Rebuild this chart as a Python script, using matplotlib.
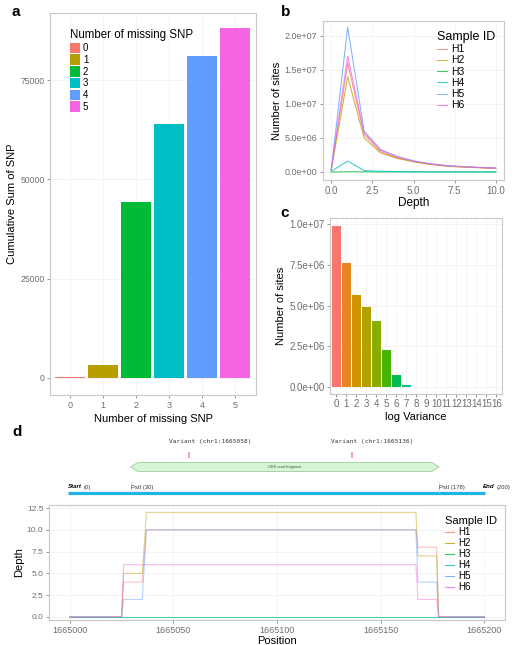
import math
import matplotlib
matplotlib.use("Agg")
import matplotlib.pyplot as plt
from matplotlib.patches import Patch, Rectangle, Polygon

plt.rcParams['font.family'] = ['Liberation Sans', 'DejaVu Sans']

# ---- data ----
missing_snp = [0, 1, 2, 3, 4, 5]
cum_snp = [150, 3300, 44400, 63900, 81000, 88100]

samples = ['H1', 'H2', 'H3', 'H4', 'H5', 'H6']
depth = [0, 1, 2, 3, 4, 5, 6, 7, 8, 9, 10]
h1_sites = [3e5, 1.60e7, 5.5e6, 3.0e6, 2.1e6, 1.55e6, 1.15e6, 9.0e5, 7.5e5, 6.5e5, 5.5e5]
h2_sites = [3e5, 1.40e7, 5.0e6, 2.8e6, 2.0e6, 1.50e6, 1.10e6, 8.5e5, 7.2e5, 6.2e5, 5.2e5]
h3_sites = [0, 3e4, 2e4, 1e4, 1e4, 5e3, 5e3, 5e3, 5e3, 5e3, 5e3]
h4_sites = [1e5, 1.6e6, 2.0e5, 1.0e5, 5e4, 4e4, 3e4, 2e4, 2e4, 1e4, 1e4]
h5_sites = [3e5, 2.13e7, 6.0e6, 3.3e6, 2.3e6, 1.65e6, 1.20e6, 9.5e5, 8.0e5, 6.8e5, 5.8e5]
h6_sites = [3e5, 1.70e7, 5.8e6, 3.2e6, 2.2e6, 1.60e6, 1.20e6, 9.2e5, 7.7e5, 6.6e5, 5.6e5]

log_var = list(range(17))
var_sites = [9.9e6, 7.6e6, 5.65e6, 4.9e6, 4.05e6, 2.3e6, 7.5e5, 1.5e5, 3e4,
             8e3, 3e3, 1e3, 0, 0, 0, 0, 0]

# gene map (positions relative to 1665000)
region = [0, 200]
psti_sites = [30, 178]
variant_pos = [58, 136]
variant_labels = ['Variant (chr1:1665058)', 'Variant (chr1:1665136)']

position = [1665000, 1665025, 1665026, 1665035, 1665037, 1665167, 1665168, 1665177, 1665178, 1665200]
h1_depth = [0, 0, 4, 4, 10, 10, 8, 8, 0, 0]
h2_depth = [0, 0, 5, 5, 12, 12, 7, 7, 0, 0]
h3_depth = [0, 0, 0, 0, 0, 0, 0, 0, 0, 0]
h4_depth = [0, 0, 0, 0, 0, 0, 0, 0, 0, 0]
h5_depth = [0, 0, 2, 2, 10, 10, 4, 4, 0, 0]
h6_depth = [0, 0, 6, 6, 6, 6, 2, 2, 0, 0]


def hcl_hex(h, c=100.0, l=65.0):
    # polarLUV -> sRGB, same as R's hcl()
    xn, yn, zn = 95.047, 100.0, 108.883
    un = 4 * xn / (xn + 15 * yn + 3 * zn)
    vn = 9 * yn / (xn + 15 * yn + 3 * zn)
    U = c * math.cos(math.radians(h))
    V = c * math.sin(math.radians(h))
    Y = yn * ((l + 16) / 116) ** 3
    u = U / (13 * l) + un
    v = V / (13 * l) + vn
    X = 9.0 * Y * u / (4 * v)
    Z = -X / 3 - 5 * Y + 3 * Y / v
    X, Y, Z = X / 100, Y / 100, Z / 100
    r = 3.240479 * X - 1.537150 * Y - 0.498535 * Z
    g = -0.969256 * X + 1.875992 * Y + 0.041556 * Z
    b = 0.055648 * X - 0.204043 * Y + 1.057311 * Z
    out = []
    for ch in (r, g, b):
        ch = 1.055 * ch ** (1 / 2.4) - 0.055 if ch > 0.0031308 else 12.92 * ch
        out.append(min(max(ch, 0), 1))
    return tuple(out)


def hue_pal(n):
    return [hcl_hex(15 + 360.0 * i / n) for i in range(n)]


def gg_style(ax, xsize=6, ysize=6):
    ax.set_facecolor('white')
    for s in ax.spines.values():
        s.set_color('#c8c8c8')
        s.set_linewidth(0.8)
    ax.grid(True, color='#f2f2f2', linewidth=0.6)
    ax.set_axisbelow(True)
    ax.tick_params(colors='#888888', labelcolor='#6e6e6e', length=2.5, width=0.6, pad=1.5)
    ax.tick_params(axis='x', labelsize=xsize)
    ax.tick_params(axis='y', labelsize=ysize)


W, H = 514, 645
fig = plt.figure(figsize=(W / 100, H / 100), dpi=100)


def px_axes(x0, y0, x1, y1):
    return fig.add_axes([x0 / W, 1 - y1 / H, (x1 - x0) / W, (y1 - y0) / H])


pal6 = hue_pal(6)

# ---- panel a ----
ax = px_axes(50, 13, 256, 395)
gg_style(ax, 6.5, 6.2)
ax.bar(missing_snp, cum_snp, width=0.9, color=pal6, zorder=2)
ax.set_xlim(-0.6, 5.64)
ax.set_ylim(-4300, 91900)
ax.set_xticks(missing_snp)
ax.set_yticks([0, 25000, 50000, 75000])
ax.set_xlabel('Number of missing SNP', fontsize=8, labelpad=3)
ax.set_ylabel('Cumulative Sum of SNP', fontsize=8, labelpad=2)
handles = [Patch(facecolor=c, edgecolor='none') for c in pal6]
leg = ax.legend(handles, [str(m) for m in missing_snp], title='Number of missing SNP',
                loc='upper left', bbox_to_anchor=(0.065, 0.975), frameon=False,
                fontsize=7, title_fontsize=8.3, handlelength=1.0, handleheight=1.3,
                handletextpad=0.3, labelspacing=0.12, borderpad=0.2)
leg._legend_box.align = 'left'
fig.text(12 / W, 1 - 12 / H, 'a', fontsize=11, fontweight='bold', va='center')

# ---- panel b ----
ax = px_axes(323, 21, 504, 180)
gg_style(ax, 7, 6.5)
for name, vals, c in zip(samples, [h1_sites, h2_sites, h3_sites, h4_sites, h5_sites, h6_sites], pal6):
    ax.plot(depth, vals, color=c, lw=0.8, alpha=0.75, label=name)
ax.set_xlim(-0.5, 10.5)
ax.set_ylim(-1.18e6, 2.22e7)
ax.set_xticks([0, 2.5, 5, 7.5, 10])
ax.set_xticklabels(['0.0', '2.5', '5.0', '7.5', '10.0'])
ax.set_yticks([0, 5e6, 1e7, 1.5e7, 2e7])
ax.set_yticklabels(['0.0e+00', '5.0e+06', '1.0e+07', '1.5e+07', '2.0e+07'])
ax.set_xlabel('Depth', fontsize=8.5, labelpad=1)
ax.set_ylabel('Number of sites', fontsize=8, labelpad=2)
leg = ax.legend(title='Sample ID', loc='upper right', bbox_to_anchor=(1.0, 0.99), frameon=False,
                fontsize=7.5, title_fontsize=9, handlelength=0.9, handletextpad=0.4,
                labelspacing=0.12, borderpad=0.3)
leg._legend_box.align = 'left'
fig.text(281 / W, 1 - 12 / H, 'b', fontsize=11, fontweight='bold', va='center')

# ---- panel c ----
ax = px_axes(330, 218, 502, 394)
gg_style(ax, 7, 7)
ax.bar(log_var, var_sites, width=0.9, color=hue_pal(len(log_var)), zorder=2)
ax.set_xlim(-0.6, 16.55)
ax.set_ylim(-4.3e5, 1.037e7)
ax.set_xticks(log_var)
ax.set_yticks([0, 2.5e6, 5e6, 7.5e6, 1e7])
ax.set_yticklabels(['0.0e+00', '2.5e+06', '5.0e+06', '7.5e+06', '1.0e+07'])
ax.tick_params(axis='x', pad=1)
ax.set_xlabel('log Variance', fontsize=8, labelpad=2)
ax.set_ylabel('Number of sites', fontsize=8, labelpad=2)
fig.text(280 / W, 1 - 213 / H, 'c', fontsize=11, fontweight='bold', va='center')

# ---- panel d: map ----
fig.text(12 / W, 1 - 432 / H, 'd', fontsize=11, fontweight='bold', va='center')
mp = px_axes(0, 430, 514, 500)
mp.set_axis_off()
scale = (region[1] - region[0]) / (485 - 68)
mp.set_xlim(region[0] - 68 * scale, region[1] + (514 - 485) * scale)
mp.set_ylim(70, 0)
# backbone
mp.plot(region, [63, 63], color='#1fb3e6', lw=2.3, solid_capstyle='butt')
# fragment arrow
f0, f1 = psti_sites
hl = 3.5
poly = [(f0, 37), (f0 + hl, 32.5), (f1 - hl, 32.5), (f1, 37), (f1 - hl, 41.5), (f0 + hl, 41.5)]
mp.add_patch(Polygon(poly, closed=True, facecolor='#d6f5d6', edgecolor='#9ccf9c', lw=0.6))
mp.text((f0 + f1) / 2, 37, 'GBS read fragment', fontsize=2.8, ha='center', va='center', color='#336633')
for p, lab in zip(variant_pos, variant_labels):
    mp.add_patch(Rectangle((p - 0.5, 22), 1.2, 6, facecolor='#f0a0c4', edgecolor='none'))
    mp.text(p + 10, 11, lab, fontsize=4.4, ha='center', va='center', color='#333333',
            family=['DejaVu Sans Mono'])
for p in psti_sites:
    mp.plot([p, p], [52, 62], color='#d0d0d0', lw=0.5)
    mp.text(p, 57, 'PstI (%d)' % p, fontsize=4.2, ha='left', va='center', color='#333333')
mp.text(region[0], 57, 'Start', fontsize=4.4, ha='left', va='center', fontweight='bold', style='italic')
mp.text(region[0] + 7.5, 57, '(0)', fontsize=4.2, ha='left', va='center', color='#333333')
mp.text(region[1] - 1, 57, 'End', fontsize=4.4, ha='left', va='center', fontweight='bold', style='italic')
mp.text(region[1] + 5.5, 57, '(200)', fontsize=4.2, ha='left', va='center', color='#333333')

# ---- panel d: depth ----
ax = px_axes(49, 505, 505, 620)
gg_style(ax, 6.5, 6)
for name, vals, c in zip(samples, [h1_depth, h2_depth, h3_depth, h4_depth, h5_depth, h6_depth], pal6):
    ax.plot(position, vals, color=c, lw=0.8, alpha=0.45, label=name)
ax.set_xlim(1664990, 1665210)
ax.set_ylim(-0.35, 12.85)
ax.set_xticks([1665000, 1665050, 1665100, 1665150, 1665200])
ax.set_xticklabels(['1665000', '1665050', '1665100', '1665150', '1665200'])
ax.set_yticks([0, 2.5, 5, 7.5, 10, 12.5])
ax.set_yticklabels(['0.0', '2.5', '5.0', '7.5', '10.0', '12.5'])
ax.set_xlabel('Position', fontsize=8, labelpad=1)
ax.set_ylabel('Depth', fontsize=8, labelpad=2)
leg = ax.legend(title='Sample ID', loc='upper right', bbox_to_anchor=(1.0, 0.97), frameon=False,
                fontsize=7, title_fontsize=8, handlelength=0.9, handletextpad=0.4,
                labelspacing=0.1, borderpad=0.3)
leg._legend_box.align = 'left'
for ln in leg.get_lines():
    ln.set_alpha(0.8)

fig.savefig('out.png', dpi=100)
